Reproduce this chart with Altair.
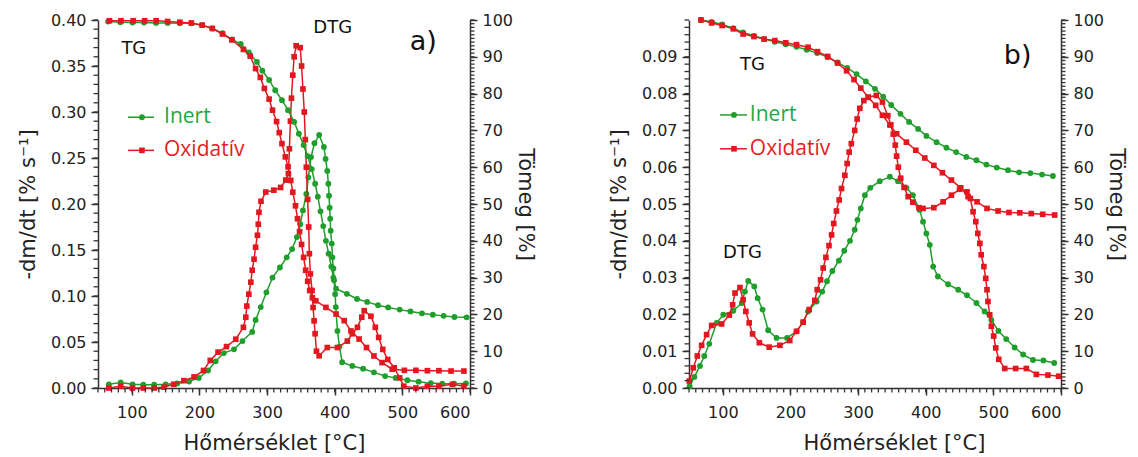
import altair as alt
import pandas as pd

GREEN = "#1f9e2c"
RED = "#e3171f"
GREEN_TXT = "#22a844"
RED_TXT = "#e31e24"
AXC = "#333333"

# ---------------- panel a) data ----------------
a_tg_inert_T = [65, 83, 101, 118, 136, 153, 171, 188, 204, 219, 234, 248, 261, 273, 285, 293, 303, 312, 322, 331,
                340, 347, 354, 360, 366, 371, 375, 379, 383, 387, 391, 395, 398, 402, 418, 433, 448, 464, 479, 496,
                512, 529, 545, 561, 577, 595]
a_tg_inert = [99.6, 99.4, 99.3, 99.3, 99.2, 99.2, 99.1, 99.1, 98.6, 97.7, 96.4, 94.7, 93.5, 91.2, 88.6, 86.2, 83.7,
              80.9, 78.2, 75.5, 72.3, 69.1, 66.0, 63.0, 59.5, 55.5, 52.0, 48.0, 44.0, 40.0, 36.5, 33.0, 30.0, 27.0,
              25.6, 24.2, 23.4, 22.5, 21.9, 21.3, 20.8, 20.3, 19.9, 19.6, 19.3, 19.2]

a_tg_ox_T = [67, 84, 102, 119, 136, 153, 171, 188, 204, 219, 234, 248, 265, 275, 283, 290, 296, 303, 308, 314,
             318, 322, 327, 331, 335, 338, 342, 345, 348, 351, 354, 357, 360, 363, 367, 372, 387, 402, 414, 424,
             436, 447, 458, 470, 485, 503, 520, 537, 554, 572, 591]
a_tg_ox = [99.8, 99.8, 99.8, 99.8, 99.8, 99.6, 99.4, 99.2, 98.6, 97.7, 96.2, 94.6, 92.0, 90.2, 86.8, 84.4, 81.4,
           78.5, 75.5, 72.4, 69.4, 66.4, 62.8, 60.1, 56.4, 53.2, 49.5, 46.0, 42.5, 39.0, 35.5, 32.0, 29.0, 26.5,
           24.5, 23.7, 21.9, 20.1, 18.3, 15.5, 13.3, 11.0, 8.7, 6.9, 5.1, 4.8, 4.8, 4.7, 4.7, 4.6, 4.6]

a_dtg_inert_T = [66, 83.5, 101, 117, 133, 150, 167, 184.6, 199, 212.7, 224, 236, 251, 263.5, 278, 283, 290.6, 299,
                 308, 319, 329, 337, 344, 349, 353, 358, 361, 365, 370, 377, 384, 386.5, 389, 390.6, 391.6, 392.5,
                 393.3, 394, 395.6, 396.6, 398, 399, 400.6, 401.6, 404, 407, 411, 426, 442, 458, 474.5, 490, 507.5,
                 524, 542, 559, 576.5, 594]
a_dtg_inert = [0.004, 0.006, 0.004, 0.0035, 0.0035, 0.004, 0.005, 0.007, 0.011, 0.019, 0.029, 0.038, 0.042, 0.051,
               0.061, 0.074, 0.088, 0.104, 0.120, 0.131, 0.142, 0.151, 0.164, 0.178, 0.193, 0.211, 0.229, 0.251,
               0.266, 0.275, 0.262, 0.249, 0.236, 0.222, 0.209, 0.196, 0.184, 0.171, 0.157, 0.142, 0.130, 0.117,
               0.102, 0.088, 0.062, 0.045, 0.028, 0.024, 0.021, 0.017, 0.013, 0.011, 0.0084, 0.0069, 0.0053, 0.0047,
               0.0047, 0.005]

a_dtg_ox_T = [66, 83.5, 101, 117, 133, 147.6, 162, 177, 192, 206, 216, 227.5, 240, 253.7, 265, 268.5, 270, 273,
              276, 278, 280.7, 283, 285.7, 287, 288, 291, 298, 310, 320, 327.6, 331.5, 333, 334.5, 336, 338, 340,
              343, 349, 351, 353, 355, 356.5, 358, 360, 361.5, 362.5, 364, 366.5, 368, 369.5, 371, 373, 377, 389,
              404, 418.6, 426, 433.6, 440, 443.6, 453.5, 460, 465, 471, 478.4, 488, 496, 502, 520, 537, 554, 574, 591]
a_dtg_ox = [0.0, 0.002, 0.0, 0.0, 0.0, 0.001, 0.004, 0.008, 0.012, 0.019, 0.030, 0.039, 0.045, 0.053, 0.066, 0.077,
            0.089, 0.102, 0.115, 0.128, 0.140, 0.153, 0.166, 0.178, 0.191, 0.203, 0.213, 0.215, 0.218, 0.226, 0.233,
            0.26, 0.29, 0.315, 0.34, 0.36, 0.372, 0.370, 0.35, 0.325, 0.30, 0.27, 0.24, 0.205, 0.175, 0.146, 0.124,
            0.106, 0.0875, 0.073, 0.059, 0.040, 0.035, 0.044, 0.044, 0.051, 0.059, 0.066, 0.077, 0.084, 0.078,
            0.066, 0.055, 0.042, 0.031, 0.022, 0.011, 0.002, 0.0, 0.002, 0.002, 0.004, 0.002]

# ---------------- panel b) data ----------------
b_tg_inert_T = [67.7, 83.5, 99, 115.5, 130, 146, 161, 177, 193, 209, 224, 239.5, 255, 269.6, 284, 297.7, 311.5, 325,
                337, 349, 362.7, 375.4, 388.7, 401, 416, 430.6, 445, 460, 475, 489.7, 505, 521.6, 538, 554.7, 572, 588]
b_tg_inert = [100.0, 99.5, 98.8, 97.8, 96.6, 95.7, 94.8, 94.1, 93.4, 92.7, 91.9, 91.0, 89.9, 88.5, 87.0, 85.3, 83.3,
              81.3, 79.2, 76.9, 74.5, 72.3, 70.4, 68.5, 66.8, 65.3, 64.1, 62.8, 61.9, 60.7, 59.9, 59.2, 58.6, 58.4,
              58.0, 57.6]

b_tg_ox_T = [67.7, 83.5, 99, 115.5, 130, 146, 161, 177, 193, 209, 226, 240, 255, 269.6, 283, 294, 304, 315, 326, 336,
             347, 357, 371.5, 385.3, 398.6, 412, 424.7, 438, 451.8, 462.6, 475.9, 490.6, 507, 523, 539, 556, 573, 590.6]
b_tg_ox = [100.0, 99.2, 98.5, 97.6, 96.2, 95.5, 94.8, 94.4, 93.8, 93.3, 92.6, 91.4, 90.1, 88.3, 86.2, 83.8, 81.5,
           79.0, 76.8, 74.1, 71.5, 69.1, 66.8, 64.6, 62.5, 60.5, 58.5, 56.5, 54.4, 52.0, 50.6, 48.8, 48.1, 47.7,
           47.6, 47.4, 47.2, 47.0]

b_dtg_inert_T = [51, 57.9, 66.2, 72.6, 80, 91, 100.7, 115.5, 128, 132.7, 137.6, 146.5, 151.5, 158.8, 167, 179.5, 195,
                 209, 218.8, 226, 238.6, 247, 254, 262, 271.6, 279.5, 288, 295, 299, 304, 310, 318, 332, 347, 359,
                 371.5, 381, 391, 396, 401, 406, 411, 418, 433, 448, 461, 475, 487, 497, 507.5, 519, 531.5, 544,
                 558.6, 574, 590]
b_dtg_inert = [0.0005, 0.003, 0.006, 0.0087, 0.012, 0.0177, 0.0199, 0.021, 0.0231, 0.0262, 0.0291, 0.0276, 0.0244,
               0.0213, 0.0157, 0.0136, 0.0136, 0.0154, 0.0179, 0.0208, 0.0235, 0.0262, 0.029, 0.0318, 0.0346, 0.0373,
               0.040, 0.043, 0.0457, 0.0488, 0.0524, 0.0544, 0.0562, 0.0574, 0.0562, 0.0544, 0.0524, 0.0484, 0.0452,
               0.042, 0.0389, 0.033, 0.0303, 0.0282, 0.0267, 0.0252, 0.0231, 0.0208, 0.0185, 0.0155, 0.0133, 0.011,
               0.0091, 0.0076, 0.0075, 0.0068]

b_dtg_ox_T = [50.4, 56.4, 62.3, 68.7, 76, 83.5, 98.3, 109.6, 114.5, 118, 125.3, 130, 134, 139, 144, 154, 168.6,
              184.4, 199, 209, 218.8, 227.7, 236, 239.5, 244.5, 248.4, 252.4, 257, 260.8, 264, 268, 272, 275.5,
              280.4, 283.8, 286.8, 290, 295, 298.6, 302.6, 308.5, 315, 327, 336, 344, 348.4, 352, 355, 357, 359.5,
              363, 368, 374, 381, 390, 396, 412, 425.7, 438, 450, 461, 466, 470, 474, 477, 480, 482, 486, 488.7,
              490.6, 492, 494.6, 497, 500.5, 503.5, 508, 516.8, 533, 548.8, 563.6, 580.7, 596.5]
b_dtg_ox = [0.0019, 0.0055, 0.0087, 0.0116, 0.0145, 0.017, 0.0174, 0.0198, 0.0226, 0.0258, 0.0273, 0.024, 0.0208,
            0.0177, 0.0147, 0.0123, 0.0111, 0.0116, 0.0129, 0.0154, 0.0179, 0.0213, 0.0238, 0.0267, 0.0294, 0.0326,
            0.0355, 0.0387, 0.0416, 0.0447, 0.0481, 0.0511, 0.0542, 0.0578, 0.061, 0.0641, 0.0664, 0.070, 0.0731,
            0.076, 0.0781, 0.079, 0.0795, 0.0777, 0.074, 0.0715, 0.069, 0.066, 0.063, 0.060, 0.057, 0.0545, 0.052,
            0.0505, 0.049, 0.0488, 0.049, 0.0506, 0.0524, 0.054, 0.0533, 0.0515, 0.0479, 0.0452, 0.042, 0.0393,
            0.0362, 0.033, 0.0298, 0.0267, 0.0235, 0.0199, 0.0168, 0.0141, 0.0109, 0.0078, 0.0053, 0.0053, 0.0053,
            0.0037, 0.0035, 0.0032]

# tick labels
x_ticks = [100, 200, 300, 400, 500, 600]
a_left_ticks = [0.0, 0.05, 0.10, 0.15, 0.20, 0.25, 0.30, 0.35, 0.40]
b_left_ticks = [0.0, 0.01, 0.02, 0.03, 0.04, 0.05, 0.06, 0.07, 0.08, 0.09]
right_ticks = [0, 10, 20, 30, 40, 50, 60, 70, 80, 90, 100]

W, H = 372, 368
FONT = "DejaVu Sans"
XDOM = [50, 600]
MINOR_PX = 4.5


def axis_common():
    return dict(grid=False, tickSize=7, labelFontSize=16, titleFontSize=21, labelFont=FONT, titleFont=FONT,
                titleFontWeight="normal", domainColor=AXC, domainWidth=1.5, tickColor=AXC, tickWidth=1.5,
                labelColor="#222222", titleColor="#222222")


def panel(tg_i, tg_o, dtg_i, dtg_o, ydom, yticks, yminor_step, texts, legend, title_x):
    xs = alt.Scale(domain=XDOM, nice=False, zero=False)
    ys_l = alt.Scale(domain=ydom, nice=False, zero=False)
    ys_r = alt.Scale(domain=[0, 100], nice=False, zero=False)
    xax = alt.Axis(values=x_ticks, title="Hőmérséklet [°C]", labelPadding=9, titlePadding=12, titleX=title_x,
                   **axis_common())
    yl_ax = alt.Axis(values=yticks, format=".2f", title="-dm/dt [% s⁻¹]", labelPadding=5, titlePadding=12,
                     **axis_common())
    yr_ax = alt.Axis(values=right_ticks, orient="right", title="Tömeg [%]", labelPadding=5, titlePadding=2,
                     **axis_common())

    def X(field="T"):
        return alt.X(f"{field}:Q", scale=xs, axis=xax, title="Hőmérséklet [°C]")

    def YL(field="v"):
        return alt.Y(f"{field}:Q", scale=ys_l, axis=yl_ax, title="-dm/dt [% s⁻¹]")

    def YR(field="v"):
        return alt.Y(f"{field}:Q", scale=ys_r, axis=yr_ax, title="Tömeg [%]")

    def series(T, v, color, shape, Yf, size):
        assert len(T) == len(v)
        df = pd.DataFrame({"T": T, "v": v, "i": list(range(len(T)))})
        base = alt.Chart(df)
        ln = base.mark_line(color=color, strokeWidth=1.5).encode(x=X(), y=Yf(), order="i:Q")
        pt = base.mark_point(shape=shape, filled=True, color=color, size=size, opacity=1).encode(x=X(), y=Yf())
        return [ln, pt]

    # minor ticks: short rules just outside the axis lines (lengths converted from pixels to data units)
    dx = MINOR_PX * (XDOM[1] - XDOM[0]) / W
    dyl = MINOR_PX * (ydom[1] - ydom[0]) / H
    nmin = int(round((ydom[1] - ydom[0]) / yminor_step))
    ymin_df = pd.DataFrame({"v": [ydom[0] + k * yminor_step for k in range(nmin + 1)]})
    ymin_df["T"] = XDOM[0]
    ymin_df["T2"] = XDOM[0] - dx
    ymin = alt.Chart(ymin_df).mark_rule(color=AXC, strokeWidth=1.3).encode(
        y=YL(), x=X(), x2="T2:Q")
    xmin_df = pd.DataFrame({"T": list(range(50, 601, 10))})
    xmin_df["v"] = ydom[0]
    xmin_df["v2"] = ydom[0] - dyl
    xmin = alt.Chart(xmin_df).mark_rule(color=AXC, strokeWidth=1.3).encode(
        x=X(), y=YL(), y2="v2:Q")
    rmin_df = pd.DataFrame({"v": list(range(0, 101, 1))})
    rmin_df["T"] = XDOM[1]
    rmin_df["T2"] = XDOM[1] + dx
    rmin = alt.Chart(rmin_df).mark_rule(color=AXC, strokeWidth=1.3).encode(
        y=YR(), x=X(), x2="T2:Q")

    # annotations
    txt_df = pd.DataFrame(texts)
    txt = alt.Chart(txt_df).mark_text(font=FONT, color="#111111", align="center", baseline="middle").encode(
        x=X(), y=YL(), text="label:N", size=alt.Size("fs:Q", scale=None, legend=None))

    leg_layers = []
    for (t1, t2, tm, tt, yv, name, col, tcol, shp, sz) in legend:
        seg = pd.DataFrame({"T": [t1, t2], "v": [yv, yv]})
        leg_layers.append(alt.Chart(seg).mark_line(color=col, strokeWidth=1.5).encode(x=X(), y=YL()))
        mk = pd.DataFrame({"T": [tm], "v": [yv]})
        leg_layers.append(alt.Chart(mk).mark_point(shape=shp, filled=True, color=col, size=sz, opacity=1).encode(
            x=X(), y=YL()))
        lb = pd.DataFrame({"T": [tt], "v": [yv], "label": [name]})
        leg_layers.append(alt.Chart(lb).mark_text(font="Open Sans", fontSize=21, color=tcol, align="left",
                                                  baseline="middle").encode(x=X(), y=YL(), text="label:N"))

    left = alt.layer(*series(dtg_i[0], dtg_i[1], GREEN, "circle", YL, 34),
                     *series(dtg_o[0], dtg_o[1], RED, "square", YL, 32),
                     txt, *leg_layers, xmin, ymin)
    right = alt.layer(*series(tg_i[0], tg_i[1], GREEN, "circle", YR, 34),
                      *series(tg_o[0], tg_o[1], RED, "square", YR, 32), rmin)
    return alt.layer(left, right).resolve_scale(y="independent").properties(width=W, height=H)


a_texts = {"T": [103, 397, 531], "v": [0.368, 0.391, 0.376], "label": ["TG", "DTG", "a)"], "fs": [18, 18, 27]}
a_legend = [(94.4, 132.8, 115, 147.6, 0.2943, "Inert", GREEN, GREEN_TXT, "circle", 34),
            (94.4, 132.8, 115, 147.6, 0.2583, "Oxidatív", RED, RED_TXT, "square", 32)]
b_texts = {"T": [144, 129, 536], "v": [0.0879, 0.0366, 0.0901], "label": ["TG", "DTG", "b)"], "fs": [18, 18, 27]}
b_legend = [(95.8, 135.7, 116.5, 140, 0.0742, "Inert", GREEN, GREEN_TXT, "circle", 34),
            (95.8, 135.7, 116.5, 140, 0.0650, "Oxidatív", RED, RED_TXT, "square", 32)]

pa = panel((a_tg_inert_T, a_tg_inert), (a_tg_ox_T, a_tg_ox), (a_dtg_inert_T, a_dtg_inert),
           (a_dtg_ox_T, a_dtg_ox), [0, 0.4], a_left_ticks, 0.01, a_texts, a_legend, 176)
pb = panel((b_tg_inert_T, b_tg_inert), (b_tg_ox_T, b_tg_ox), (b_dtg_inert_T, b_dtg_inert),
           (b_dtg_ox_T, b_dtg_ox), [0, 0.1], b_left_ticks, 0.002, b_texts, b_legend, 205)

chart = alt.hconcat(pa, pb, spacing=72).properties(
    padding={"left": 17, "top": 12, "right": 6, "bottom": 0},
    background="white",
).configure_view(stroke=None)

chart.save("out.html", embed_options={"renderer": "svg", "actions": False})
